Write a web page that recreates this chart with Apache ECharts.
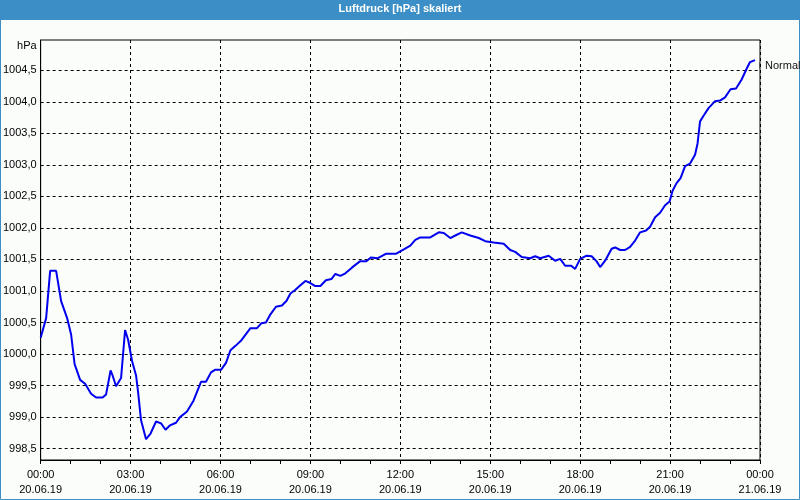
<!DOCTYPE html>
<html>
<head>
<meta charset="utf-8">
<script src="https://cdn.jsdelivr.net/npm/echarts@6/dist/echarts.min.js"></script>
<style>
html,body{margin:0;padding:0;background:#fbfdfb;}
#chart{width:800px;height:500px;}
</style>
</head>
<body>
<div id="chart"></div>
<script>
// ---- data ----
const times = ['00:00','00:11','00:19','00:31','00:41','00:53','01:01','01:08','01:19','01:29','01:41','01:51','02:04','02:11','02:20','02:24','02:31','02:41','02:49','02:55','03:03','03:11','03:15','03:21','03:31','03:40','03:51','04:01','04:10','04:19','04:31','04:39','04:53','05:06','05:21','05:31','05:41','05:49','06:01','06:11','06:20','06:30','06:42','07:00','07:13','07:22','07:31','07:40','07:51','08:03','08:12','08:20','08:30','08:40','08:50','08:59','09:09','09:20','09:31','09:42','09:50','10:00','10:10','10:23','10:39','10:52','11:01','11:15','11:31','11:51','12:07','12:20','12:30','12:40','13:00','13:17','13:27','13:40','13:50','14:03','14:20','14:37','14:50','15:07','15:27','15:40','15:50','16:03','16:20','16:30','16:40','16:57','17:10','17:20','17:30','17:42','17:50','18:00','18:13','18:23','18:33','18:40','18:50','19:03','19:10','19:20','19:30','19:40','19:50','20:00','20:12','20:20','20:30','20:40','20:50','20:59','21:05','21:13','21:21','21:30','21:40','21:50','21:55','22:00','22:08','22:17','22:30','22:40','22:50','23:01','23:12','23:23','23:33','23:40','23:50'];
const pressure = [1000.26,1000.57,1001.32,1001.32,1000.84,1000.57,1000.31,999.84,999.59,999.53,999.37,999.31,999.31,999.36,999.74,999.66,999.49,999.62,1000.38,1000.23,999.89,999.66,999.40,998.95,998.65,998.74,998.93,998.90,998.80,998.87,998.91,999.00,999.09,999.26,999.56,999.56,999.71,999.75,999.75,999.86,1000.06,1000.13,1000.22,1000.41,1000.41,1000.49,1000.50,1000.63,1000.75,1000.77,1000.84,1000.96,1001.02,1001.09,1001.16,1001.13,1001.08,1001.08,1001.17,1001.19,1001.27,1001.24,1001.28,1001.37,1001.47,1001.47,1001.53,1001.52,1001.59,1001.59,1001.66,1001.72,1001.81,1001.85,1001.85,1001.93,1001.92,1001.84,1001.88,1001.93,1001.88,1001.84,1001.79,1001.77,1001.75,1001.65,1001.62,1001.54,1001.52,1001.55,1001.52,1001.56,1001.48,1001.51,1001.40,1001.40,1001.35,1001.51,1001.56,1001.55,1001.47,1001.38,1001.48,1001.67,1001.69,1001.65,1001.65,1001.70,1001.80,1001.93,1001.96,1002.02,1002.17,1002.24,1002.36,1002.42,1002.59,1002.71,1002.79,1002.98,1003.02,1003.16,1003.34,1003.69,1003.79,1003.90,1004.01,1004.02,1004.07,1004.20,1004.21,1004.35,1004.52,1004.63,1004.66];
const xTimeLabels = ['00:00','03:00','06:00','09:00','12:00','15:00','18:00','21:00','00:00'];
const xDateLabels = ['20.06.19','20.06.19','20.06.19','20.06.19','20.06.19','20.06.19','20.06.19','20.06.19','21.06.19'];
const yTicks = [998.5,999.0,999.5,1000.0,1000.5,1001.0,1001.5,1002.0,1002.5,1003.0,1003.5,1004.0,1004.5];
const seriesName = 'Normal';
const chartTitle = 'Luftdruck [hPa] skaliert';
const yUnit = 'hPa';

// ---- build ----
function toMinutes(s){ const p = s.split(':'); return (+p[0])*60 + (+p[1]); }
const seriesData = times.map((t,i) => [toMinutes(t), pressure[i]]);

const FONT = '"Liberation Sans", Arial, sans-serif';
const frameBlue = '#3c8fc6';

const chart = echarts.init(document.getElementById('chart'), null, {renderer:'canvas'});
chart.setOption({
  animation: false,
  backgroundColor: '#fbfdfb',
  textStyle: {fontFamily: FONT},
  graphic: [
    {type:'rect', z:0, silent:true, shape:{x:0,y:0,width:800,height:20}, style:{fill:frameBlue}},
    {type:'rect', z:0, silent:true, shape:{x:0.5,y:0.5,width:799,height:499}, style:{fill:null, stroke:frameBlue, lineWidth:1}}
  ],
  title: {
    text: chartTitle,
    left: 'center',
    top: 3,
    padding: 0,
    z: 10,
    textStyle: {color:'#ffffff', fontSize: 11, fontWeight: 'bold', fontFamily: FONT}
  },
  legend: {
    data: [{name: seriesName, itemStyle:{color:'#555555'}}],
    left: 759,
    top: 60,
    padding: 0,
    icon: 'rect',
    itemWidth: 1,
    itemHeight: 6,
    selectedMode: false,
    textStyle: {color:'#111111', fontSize: 11, fontFamily: FONT}
  },
  grid: {
    left: 40, right: 40, top: 40, bottom: 40,
    show: true,
    backgroundColor: '#fbfdfb',
    borderColor: '#000000',
    borderWidth: 1
  },
  xAxis: {
    type: 'value',
    min: 0,
    max: 1440,
    interval: 180,
    axisLine: {show:true, lineStyle:{color:'#000000', width:1}},
    axisTick: {show:true, length:4, lineStyle:{color:'#000000'}},
    minorTick: {show:true, splitNumber:3, length:4, lineStyle:{color:'#000000'}},
    splitLine: {show:true, lineStyle:{color:'#000000', type:[3,3], width:1}},
    axisLabel: {
      margin: 7,
      color: '#000000',
      fontSize: 11,
      lineHeight: 15,
      fontFamily: FONT,
      showMinLabel: true,
      showMaxLabel: true,
      formatter: function(v){
        const i = Math.round(v/180);
        return xTimeLabels[i] + '\n' + xDateLabels[i];
      }
    }
  },
  yAxis: {
    type: 'value',
    min: 998.32,
    max: 1004.98,
    name: yUnit,
    nameLocation: 'end',
    nameGap: -6,
    nameTextStyle: {align:'right', verticalAlign:'middle', color:'#000000', fontSize:11, fontFamily: FONT, padding:[0,4,0,0]},
    axisLine: {show:true, lineStyle:{color:'#000000', width:1}},
    axisTick: {show:false, customValues: yTicks},
    splitLine: {show:true, lineStyle:{color:'#000000', type:[3,3], width:1}},
    axisLabel: {
      customValues: yTicks,
      margin: 4,
      color: '#000000',
      fontSize: 11,
      fontFamily: FONT,
      formatter: function(v){ return v.toFixed(1).replace('.', ','); }
    }
  },
  series: [{
    name: seriesName,
    type: 'line',
    data: seriesData,
    showSymbol: false,
    symbol: 'none',
    lineStyle: {color:'#0000ee', width:2},
    itemStyle: {color:'#0000ee'}
  }]
});
</script>
</body>
</html>
